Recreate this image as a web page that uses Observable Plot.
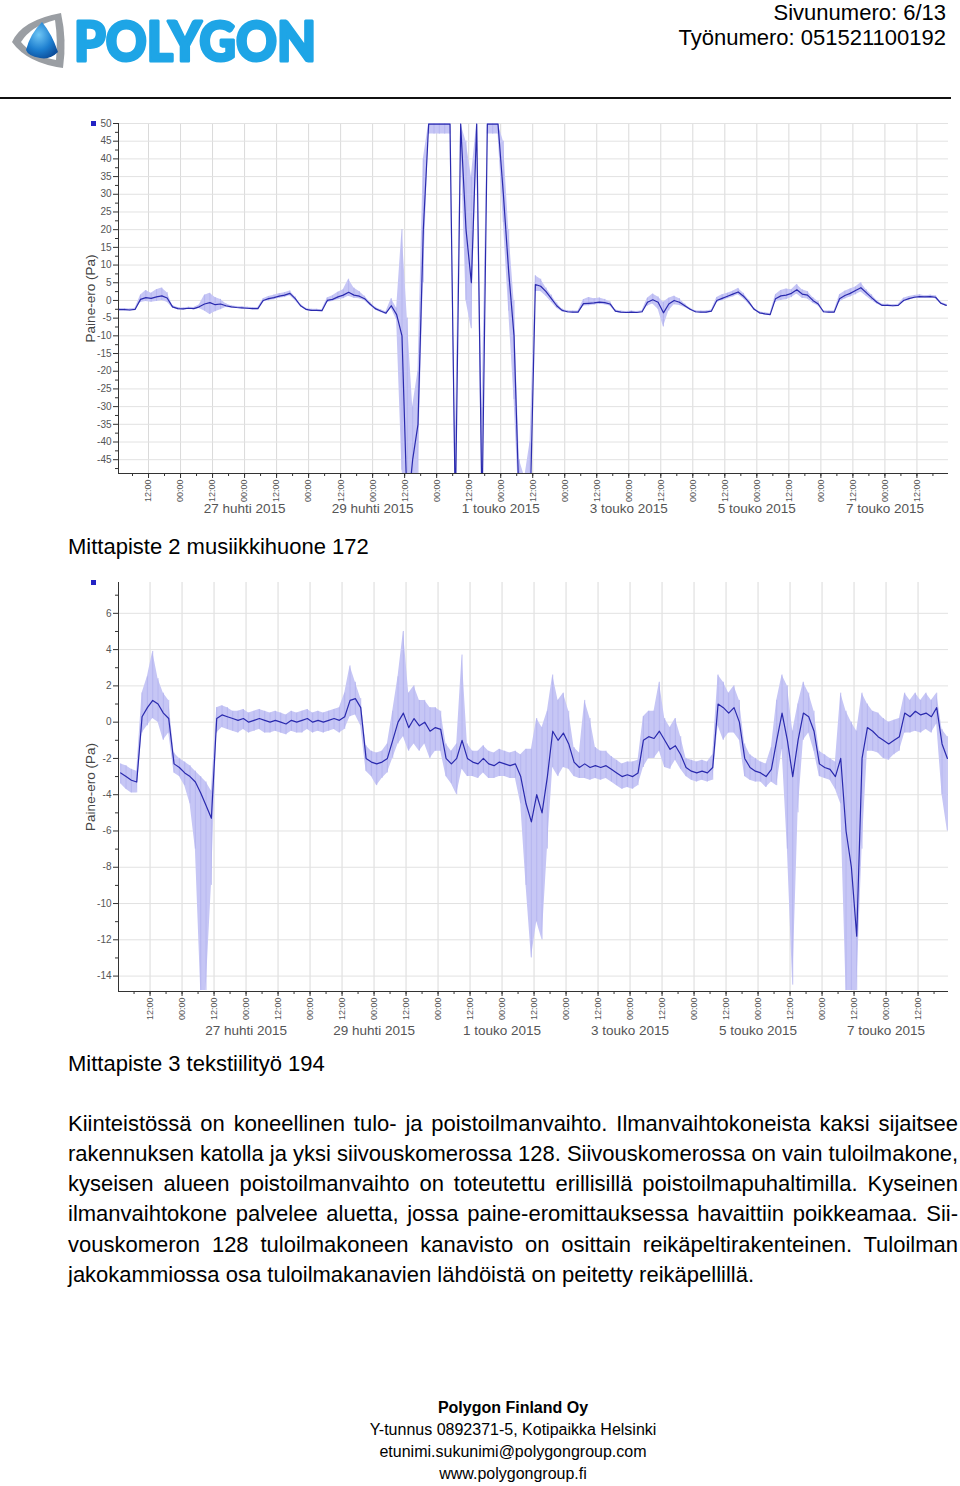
<!DOCTYPE html>
<html><head><meta charset="utf-8">
<script src="https://cdn.jsdelivr.net/npm/d3@7"></script>
<script src="https://cdn.jsdelivr.net/npm/@observablehq/plot@0.6"></script>
<style>
body{margin:0;background:#fff;font-family:"Liberation Sans",Arial,sans-serif;color:#000;}
#page{position:relative;width:960px;height:1486px;overflow:hidden;background:#fff;}
.abs{position:absolute;white-space:nowrap;}
.hdr{right:14px;font-size:22px;line-height:25px;text-align:right;}
.title{left:68px;font-size:22px;line-height:26px;}
.jl{position:absolute;left:68px;width:890px;font-size:22px;line-height:30px;text-align:justify;text-align-last:justify;white-space:nowrap;}
.foot{left:0;width:1026px;text-align:center;font-size:16px;line-height:22px;}
.sq{position:absolute;width:5px;height:5px;background:#2424c4;}
</style></head><body><div id="page">
<svg class="abs" style="left:0;top:0" width="345" height="80">
  <defs><radialGradient id="bg" cx="0.4" cy="0.35" r="0.7"><stop offset="0" stop-color="#6fc6f5"/><stop offset="0.6" stop-color="#1d7fd0"/><stop offset="1" stop-color="#0d4f9c"/></radialGradient></defs>
  <path d="M12,42 Q22,20 61,13 Q67,40 63,68 Q27,63 12,42 Z" fill="#9a9ea3"/>
  <path d="M21,42 Q31,26 55,20 Q58,40 56,60 Q32,56 21,42 Z" fill="#fff"/>
  <path d="M42,22 Q52,34 58,52 Q50,60 40,58 Q28,56 26,50 Q30,34 42,22 Z" fill="url(#bg)"/>
  <text x="74" y="61" font-family="Lato, 'Liberation Sans', sans-serif" font-weight="900" font-size="55" fill="#1ea5e6" stroke="#1ea5e6" stroke-width="3" stroke-linejoin="round" textLength="242" lengthAdjust="spacingAndGlyphs">POLYGON</text>
</svg>
<div class="abs hdr" style="top:0px">Sivunumero: 6/13</div>
<div class="abs hdr" style="top:25px">Työnumero: 051521100192</div>
<div class="abs" style="left:0;top:97px;width:951px;height:2px;background:#111"></div>
<div id="c1" class="abs" style="left:0;top:105px"></div>
<div class="sq" style="left:91px;top:121px"></div>
<div class="abs title" style="top:534px">Mittapiste 2 musiikkihuone 172</div>
<div id="c2" class="abs" style="left:0;top:570px"></div>
<div class="sq" style="left:91px;top:580px"></div>
<div class="abs title" style="top:1051px">Mittapiste 3 tekstiilityö 194</div>
<div class="jl" style="top:1109px">Kiinteistössä on koneellinen tulo- ja poistoilmanvaihto. Ilmanvaihtokoneista kaksi sijaitsee</div>
<div class="jl" style="top:1139px">rakennuksen katolla ja yksi siivouskomerossa 128. Siivouskomerossa on vain tuloilmakone,</div>
<div class="jl" style="top:1169px">kyseisen alueen poistoilmanvaihto on toteutettu erillisillä poistoilmapuhaltimilla. Kyseinen</div>
<div class="jl" style="top:1199px">ilmanvaihtokone palvelee aluetta, jossa paine-eromittauksessa havaittiin poikkeamaa. Sii-</div>
<div class="jl" style="top:1230px">vouskomeron 128 tuloilmakoneen kanavisto on osittain reikäpeltirakenteinen. Tuloilman</div>
<div class="jl" style="top:1260px;text-align-last:left">jakokammiossa osa tuloilmakanavien lähdöistä on peitetty reikäpellillä.</div>
<div class="abs foot" style="top:1397px;font-weight:bold">Polygon Finland Oy</div>
<div class="abs foot" style="top:1419px">Y-tunnus 0892371-5, Kotipaikka Helsinki</div>
<div class="abs foot" style="top:1441px">etunimi.sukunimi@polygongroup.com</div>
<div class="abs foot" style="top:1463px">www.polygongroup.fi</div>
</div>
<script>
// ---- shared x-axis content ----
const dateLabels = ["27 huhti 2015","29 huhti 2015","1 touko 2015","3 touko 2015","5 touko 2015","7 touko 2015"];
const dateLabelTimes = [Date.UTC(2015,3,27),Date.UTC(2015,3,29),Date.UTC(2015,4,1),Date.UTC(2015,4,3),Date.UTC(2015,4,5),Date.UTC(2015,4,7)];
const sampleStart = Date.UTC(2015,3,25,1,0); // 2-hour samples
const yLabel = "Paine-ero (Pa)";

// ---- Mittapiste 1 (upper chart) ----
const topTicks = [-45,-40,-35,-30,-25,-20,-15,-10,-5,0,5,10,15,20,25,30,35,40,45,50];
const topMinor = [-47.5,-42.5,-37.5,-32.5,-27.5,-22.5,-17.5,-12.5,-7.5,-2.5,2.5,7.5,12.5,17.5,22.5,27.5,32.5,37.5,42.5,47.5];
const topMean = [
-2.6,-2.6,-2.7,-2.5,0.3,0.8,0.6,1.0,1.3,0.7,
-1.8,-2.3,-2.4,-2.2,-2.3,-1.8,-1.0,-0.6,-1.2,-1.0,
-1.5,-1.8,-2.0,-2.1,-2.2,-2.3,-2.3,0.0,0.5,0.8,
1.2,1.5,2.0,0.5,-1.5,-2.5,-2.8,-2.8,-2.9,0.0,
0.3,1.0,1.5,2.3,1.5,1.2,0.5,-1.0,-2.3,-3.0,
-3.6,-1.5,-4.0,-10,-60,-45,-35,20,49.8,49.8,
49.8,49.8,49.8,-60,49.8,20,5,49.8,-60,49.8,
49.8,49.8,30,8,-10,-60,-60,-60,4.5,4.0,
2.5,0.5,-1.5,-2.8,-3.2,-3.3,-3.3,-0.9,-0.8,-0.7,
-0.5,-0.6,-1.0,-3.0,-3.3,-3.4,-3.3,-3.4,-3.2,-0.5,
0.2,-0.5,-3.5,-1.0,0.0,-0.5,-1.5,-2.5,-3.2,-3.3,
-3.3,-3.0,0.0,0.6,1.2,1.8,2.4,1.2,-0.5,-2.5,
-3.5,-3.8,-4.0,0.5,1.3,1.5,2.0,3.0,1.8,1.5,
0.0,-1.0,-3.2,-3.3,-3.3,0.5,1.4,2.0,2.8,3.6,
2.2,0.8,-0.5,-1.4,-1.4,-1.5,-1.4,0.0,0.5,0.9,
1.1,1.0,1.1,0.9,-0.8,-1.4];
const topMin = [
-2.9,-2.9,-3.0,-2.8,-0.6,-0.3,-0.5,-0.3,0.0,-0.5,
-2.1,-2.6,-2.7,-2.5,-2.6,-2.3,-3.0,-4.0,-3.2,-2.6,
-2.0,-2.1,-2.3,-2.4,-2.5,-2.6,-2.6,-0.4,-0.1,0.2,
0.6,0.8,1.3,-0.1,-1.8,-2.8,-3.1,-3.1,-3.2,-0.6,
-0.3,0.2,0.5,1.2,0.6,0.5,-0.1,-1.4,-2.7,-3.4,
-4.0,-2.3,-5.5,-48,-60,-60,-50,5,47,47,
47,47,47,-60,47,0,-8,42,-60,47,
47,47,22,-3,-28,-60,-60,-60,2.5,2.5,
1.2,-0.5,-2.2,-3.2,-3.5,-3.6,-3.6,-1.6,-1.5,-1.3,
-1.1,-1.2,-1.6,-3.3,-3.6,-3.7,-3.6,-3.7,-3.5,-1.6,
-1.0,-2.5,-7.5,-3.0,-1.2,-1.4,-2.0,-2.8,-3.5,-3.6,
-3.6,-3.3,-0.6,-0.1,0.5,1.0,1.6,0.5,-1.1,-2.8,
-3.8,-4.1,-4.3,-0.5,0.0,0.2,0.8,1.8,0.6,0.4,
-0.8,-1.6,-3.5,-3.6,-3.6,-0.5,0.4,1.0,1.6,2.4,
1.2,0.0,-1.0,-1.7,-1.7,-1.8,-1.7,-0.4,0.1,0.5,
0.7,0.7,0.7,0.5,-1.1,-1.7];
const topMax = [
-2.3,-2.3,-2.4,-2.2,1.5,2.8,2.0,3.0,3.5,2.2,
-1.4,-2.0,-2.1,-1.9,-2.0,-1.3,1.5,2.0,0.8,0.3,
-0.9,-1.5,-1.7,-1.8,-1.9,-2.0,-2.0,0.5,1.1,1.5,
1.9,2.2,2.7,1.0,-1.1,-2.2,-2.5,-2.5,-2.6,0.7,
1.3,2.3,3.0,6.0,3.5,2.5,1.2,-0.5,-1.9,-2.6,
-3.2,0.5,-2.2,20,-5,-30,-20,40,50,50,
50,50,50,-40,50,45,35,50,-30,50,
50,50,45,20,0,-45,-50,-40,7,6.0,
3.5,1.5,-0.7,-2.4,-2.9,-3.0,-3.0,0.2,0.8,0.5,
0.7,0.3,-0.4,-2.7,-3.0,-3.1,-3.0,-3.1,-2.9,0.6,
1.8,1.0,-0.5,0.6,1.2,0.5,-1.0,-2.2,-2.9,-3.0,
-3.0,-2.7,0.8,1.6,2.0,2.6,3.4,2.0,0.1,-2.2,
-3.2,-3.5,-3.7,1.6,2.8,3.2,3.0,4.5,3.0,2.5,
0.8,-0.3,-2.9,-3.0,-3.0,1.6,2.6,3.2,3.8,5.0,
3.0,1.6,0.0,-1.1,-1.1,-1.2,-1.1,0.6,1.1,1.4,
1.6,1.3,1.5,1.3,-0.5,-1.1];

// ---- Mittapiste 2 musiikkihuone 172 (lower chart) ----
const botTicks = [-14,-12,-10,-8,-6,-4,-2,0,2,4,6];
const botMinor = [-13,-11,-9,-7,-5,-3,-1,1,3,5,7];
const botMean = [
-2.8,-3.0,-3.2,-3.3,0.3,0.8,1.2,1.0,0.5,0.2,
-2.3,-2.5,-2.8,-3.0,-3.3,-3.9,-4.6,-5.3,0.2,0.4,
0.3,0.2,0.1,0.2,0.0,0.1,0.2,0.1,0.0,0.1,
0.0,-0.1,0.1,0.0,0.1,0.2,0.0,0.1,0.0,0.1,
0.2,0.1,0.3,1.2,1.3,0.8,-2.0,-2.2,-2.3,-2.2,
-2.0,-1.0,0.0,0.5,-0.3,0.2,-0.2,0.0,-0.5,-0.3,
-0.4,-2.0,-2.3,-2.0,-1.0,-2.0,-2.2,-2.3,-2.0,-2.3,
-2.4,-2.2,-2.3,-2.4,-2.3,-3.0,-4.5,-5.5,-4.0,-5.0,
-3.0,-0.5,-1.0,-0.6,-1.2,-2.2,-2.5,-2.3,-2.5,-2.4,
-2.5,-2.4,-2.6,-2.8,-3.0,-2.9,-3.0,-2.8,-1.0,-0.8,
-0.9,-0.5,-1.0,-1.5,-1.3,-1.8,-2.5,-2.7,-2.8,-2.7,
-2.8,-2.5,1.0,0.8,0.5,0.8,0.0,-2.0,-2.5,-2.7,
-2.8,-3.0,-2.6,-1.0,0.5,-1.0,-3.0,-1.0,0.5,0.3,
-0.5,-2.3,-2.5,-2.6,-3.0,-2.0,-6.0,-8.0,-11.8,-2.0,
-0.3,-0.5,-0.8,-1.0,-1.2,-1.0,-0.8,0.5,0.3,0.6,
0.4,0.5,0.3,0.8,-1.2,-2.0];
const botMin = [
-3.4,-3.7,-3.9,-3.9,-0.6,-0.2,0.2,0.0,-1.0,-0.6,
-2.8,-3.0,-3.5,-4.5,-7.0,-14.8,-14.8,-9.0,-0.6,-0.3,
-0.4,-0.5,-0.6,-0.4,-0.6,-0.5,-0.4,-0.6,-0.6,-0.5,
-0.6,-0.7,-0.5,-0.6,-0.6,-0.4,-0.6,-0.5,-0.6,-0.5,
-0.4,-0.6,-0.4,0.3,0.4,-0.2,-2.7,-3.0,-3.5,-3.1,
-2.8,-2.0,-1.2,-0.8,-1.6,-1.2,-1.6,-1.2,-2.0,-1.6,
-1.6,-3.0,-3.4,-4.0,-2.6,-3.0,-3.0,-3.1,-2.8,-3.1,
-3.1,-3.0,-3.0,-3.1,-3.1,-4.5,-9.0,-13.0,-11.0,-12.0,
-7.0,-2.5,-3.0,-2.5,-2.6,-3.0,-3.1,-3.1,-3.2,-3.1,
-3.2,-3.1,-3.3,-3.5,-3.7,-3.6,-3.7,-3.5,-2.5,-2.0,
-2.0,-1.6,-2.5,-2.6,-2.1,-2.6,-3.0,-3.2,-3.3,-3.2,
-3.3,-3.2,-0.2,-1.0,-0.6,-0.6,-1.0,-3.0,-3.2,-3.3,
-3.3,-3.6,-3.3,-3.5,-1.5,-7.0,-14.5,-5.0,-1.0,-0.6,
-1.6,-3.0,-3.1,-3.2,-3.7,-4.5,-14.8,-14.8,-14.8,-7.0,
-1.6,-1.6,-1.7,-2.0,-2.1,-1.8,-1.6,-0.6,-0.6,-0.5,
-0.6,-0.4,-0.6,-0.1,-4.0,-6.0];
const botMax = [
-2.3,-2.4,-2.6,-2.7,1.6,2.5,3.9,2.4,1.6,1.2,
-1.7,-2.0,-2.2,-2.4,-2.7,-3.0,-3.3,-3.8,0.8,0.9,
0.8,0.6,0.6,0.7,0.5,0.6,0.7,0.6,0.5,0.6,
0.5,0.4,0.6,0.5,0.6,0.7,0.5,0.6,0.5,0.6,
0.7,0.8,1.6,3.1,2.2,1.3,-1.3,-1.6,-1.7,-1.6,
-1.2,0.6,2.5,5.0,1.6,2.0,1.2,1.2,0.8,0.8,
0.6,-1.2,-1.6,-1.2,3.7,-1.2,-1.6,-1.6,-1.3,-1.6,
-1.7,-1.5,-1.6,-1.7,-1.6,-1.8,-1.5,-1.5,0.2,-0.3,
0.6,2.6,1.2,1.6,0.6,-1.4,-1.7,1.2,0.2,-1.4,
-1.6,-1.6,-1.9,-2.1,-2.3,-2.2,-2.2,-2.1,0.3,0.6,
0.6,2.2,0.2,-0.3,0.2,-0.8,-2.0,-2.1,-2.2,-2.1,
-2.2,-1.8,2.6,2.2,1.6,2.0,1.2,-1.2,-1.8,-2.0,
-2.2,-2.3,-1.4,1.2,2.6,2.0,-0.5,1.0,2.2,1.6,
0.6,-1.6,-1.8,-2.0,-2.2,1.6,0.6,0.0,-0.5,1.6,
1.0,0.6,0.5,0.2,0.0,0.1,0.2,1.6,1.2,1.6,
1.2,1.6,1.2,1.6,-0.4,-0.8];

const FONT = "'Liberation Sans', Arial, sans-serif";
function chart({mean, lo, hi, xDomain, yDomain, ticks, minor, height, marginTop, marginBottom, dateDy}) {
  const rows = mean.map((m, i) => ({t: new Date(sampleStart + i * 7200e3), m, lo: lo[i], hi: hi[i]}));
  const dates = dateLabelTimes.map((t, i) => ({t: new Date(t), label: dateLabels[i]}));
  const x0 = new Date(xDomain[0]), x1 = new Date(xDomain[1]);
  return Plot.plot({
    width: 960, height, marginLeft: 118, marginRight: 12, marginTop, marginBottom,
    style: {fontFamily: FONT, background: "transparent", overflow: "visible"},
    x: {type: "utc", domain: [x0, x1], label: null},
    y: {domain: yDomain, label: null},
    marks: [
      Plot.gridX({ticks: d3.utcHour.every(12), stroke: "#dadada", strokeOpacity: 1}),
      Plot.gridY(ticks, {stroke: "#e2e2e2", strokeOpacity: 1}),
      Plot.areaY(rows, {x: "t", y1: "lo", y2: "hi", fill: "#c6c6f5", clip: true}),
      Plot.ruleX(rows, {x: "t", y1: "lo", y2: "hi", stroke: "#b2b2ef", strokeWidth: 0.8, clip: true}),
      Plot.lineY(rows, {x: "t", y: "m", stroke: "#2a2aae", strokeWidth: 1.2, clip: true}),
      Plot.ruleX([x0], {stroke: "#333"}),
      Plot.ruleY([yDomain[0]], {stroke: "#333"}),
      Plot.axisY(ticks, {tickSize: 5, tickPadding: 2, tickFormat: d => String(d), fontSize: 10, fill: "#555", stroke: "#333", label: null}),
      Plot.axisY(minor, {tickSize: 3, tickFormat: () => "", stroke: "#333", label: null}),
      Plot.axisX({ticks: d3.utcHour.every(12), tickSize: 5, tickPadding: 1, tickRotate: -90, tickFormat: d3.utcFormat("%H:%M"), fontSize: 9, fill: "#555", stroke: "#333", label: null}),
      Plot.axisX({ticks: d3.utcHour.every(6), tickSize: 3, tickFormat: () => "", stroke: "#333", label: null}),
      Plot.text(dates, {x: "t", text: "label", frameAnchor: "bottom", dy: dateDy, fontSize: 13.5, fill: "#555"}),
      Plot.text([yLabel], {frameAnchor: "left", textAnchor: "middle", rotate: -90, dx: -28, fontSize: 13.5, fill: "#444"})
    ]
  });
}
const c1 = chart({mean: topMean, lo: topMin, hi: topMax,
  xDomain: [Date.UTC(2015,3,25,0,45), Date.UTC(2015,4,7,23,50)], yDomain: [-48.9, 50],
  ticks: topTicks, minor: topMinor, height: 420, marginTop: 18, marginBottom: 52, dateDy: 39});
document.getElementById("c1").appendChild(c1);
const c2 = chart({mean: botMean, lo: botMin, hi: botMax,
  xDomain: [Date.UTC(2015,3,25,0,10), Date.UTC(2015,4,7,23,25)], yDomain: [-14.85, 7.7],
  ticks: botTicks, minor: botMinor, height: 470, marginTop: 12, marginBottom: 49, dateDy: 43});
document.getElementById("c2").appendChild(c2);
</script>
</body></html>
